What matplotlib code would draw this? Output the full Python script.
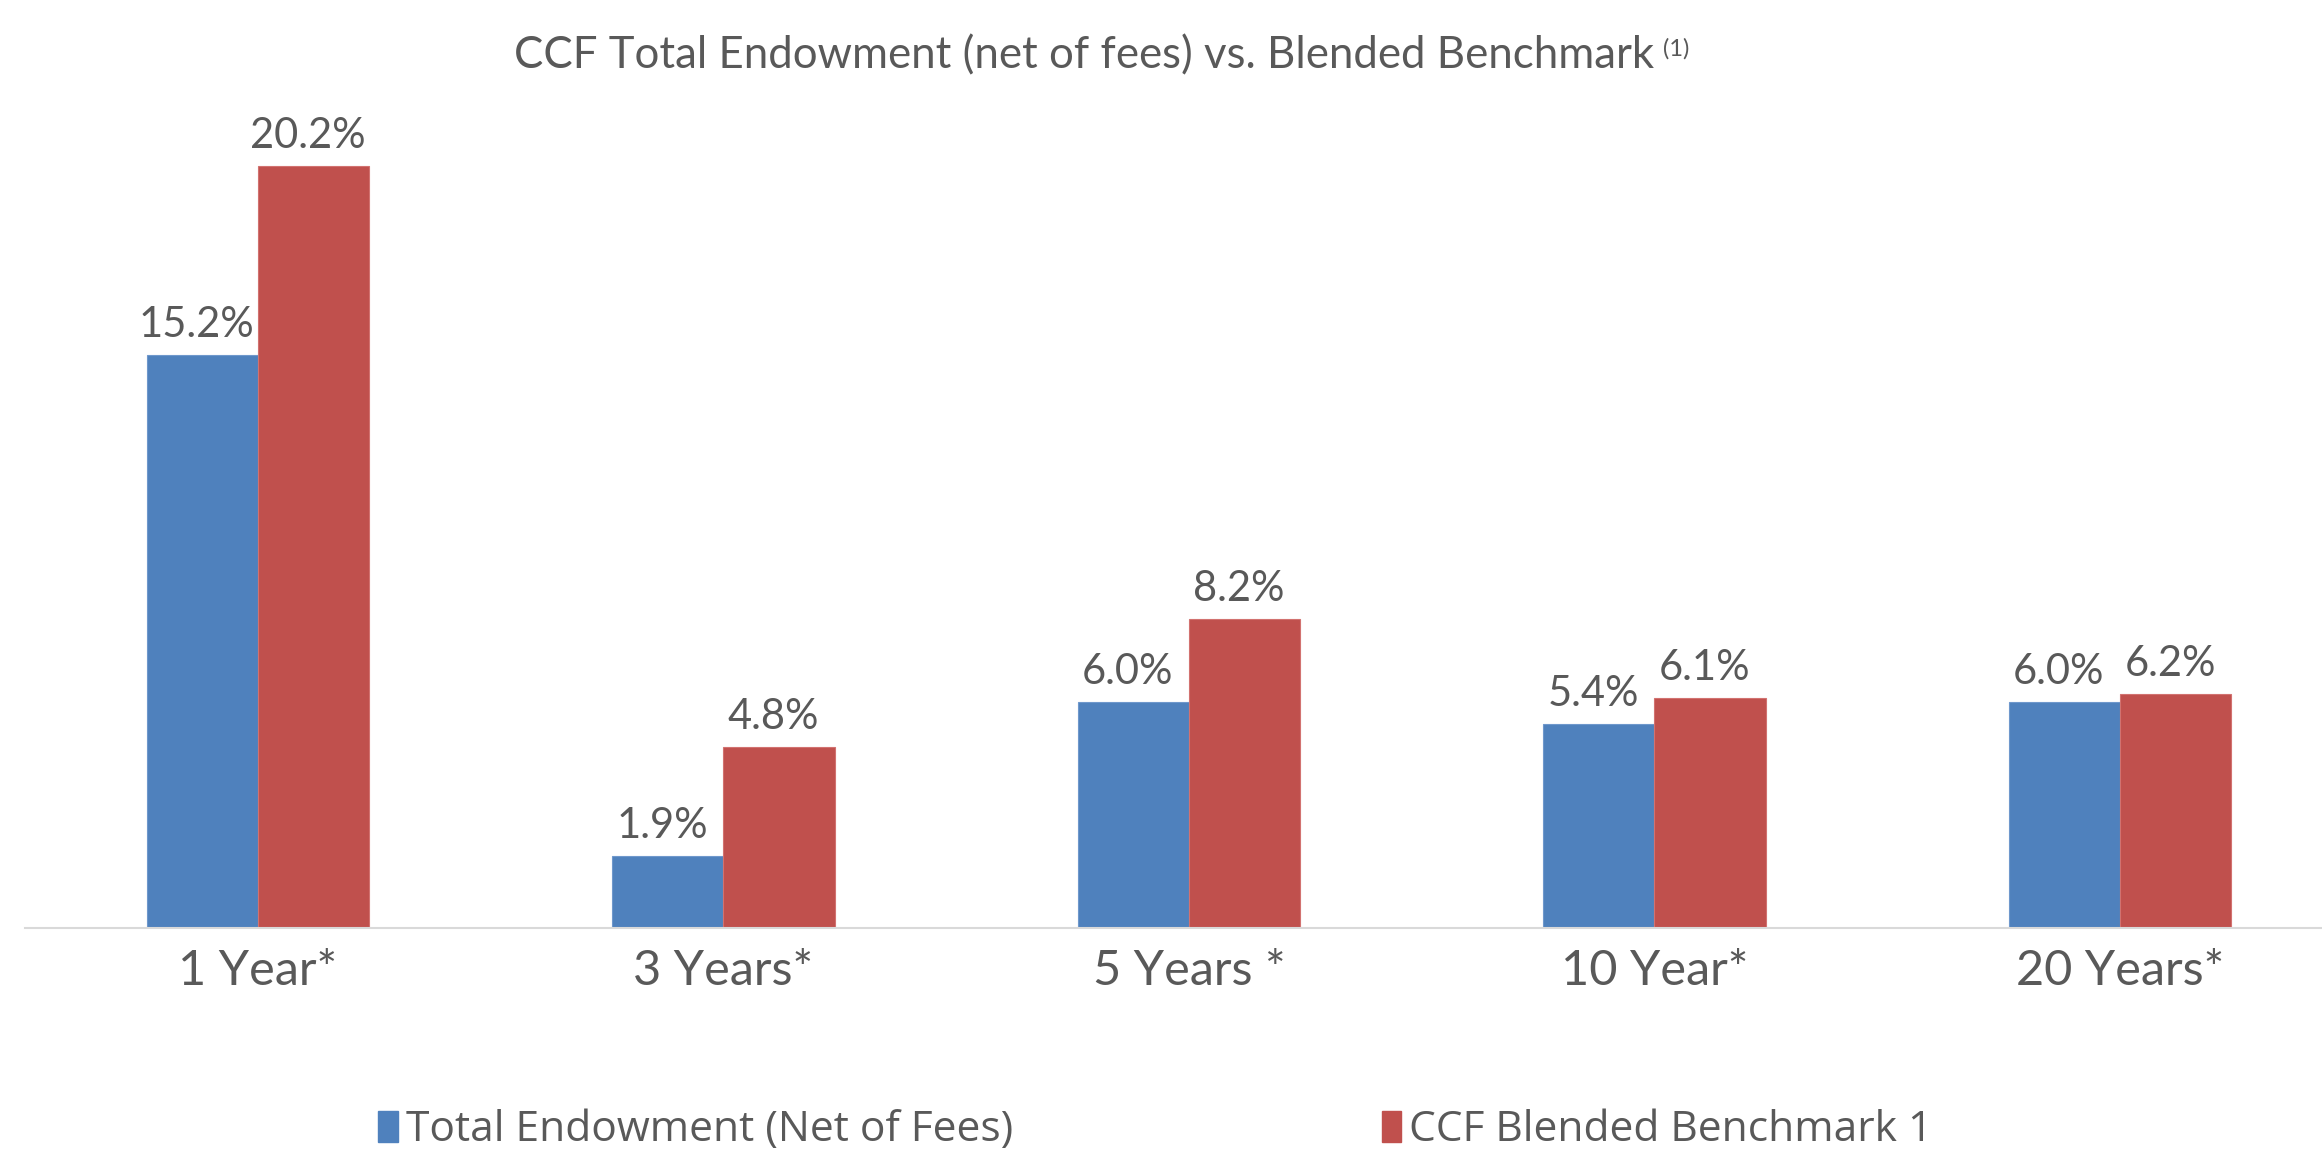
import matplotlib.pyplot as plt
import numpy as np

# ================= Data =================
CATEGORIES = ["1 Year*", "3 Years*", "5 Years *", "10 Year*", "20 Years*"]
ENDOWMENT = [15.2, 1.9, 6.0, 5.4, 6.0]
BENCHMARK = [20.2, 4.8, 8.2, 6.1, 6.2]
SERIES_NAMES = ["Total Endowment (Net of Fees)", "CCF Blended Benchmark 1"]
TITLE = "CCF Total Endowment (net of fees) vs. Blended Benchmark"
# ========================================

BLUE = "#4F81BD"
RED = "#C0504D"
TEXT = "#595959"

plt.rcParams['font.family'] = ['Lato', 'DejaVu Sans']

fig = plt.figure(figsize=(23.22, 11.5), dpi=100)
ax = fig.add_axes([0.0108, 0.193, 0.9892, 0.7213])

x = np.arange(len(CATEGORIES))
w = 0.239
b1 = ax.bar(x - w / 2, ENDOWMENT, w, color=BLUE, edgecolor="#6f98cc", linewidth=0.8)
b2 = ax.bar(x + w / 2, BENCHMARK, w, color=RED, edgecolor="#d27270", linewidth=0.8)

for bars, vals in ((b1, ENDOWMENT), (b2, BENCHMARK)):
    for bar, v in zip(bars, vals):
        ax.text(bar.get_x() + bar.get_width() / 2 - 0.012, v + 0.3, f"{v:.1f}%",
                ha='center', va='bottom', fontsize=30, color=TEXT)

ax.set_xlim(-0.5, 4.434)
ax.set_ylim(0, 22)
ax.set_xticks(x)
ax.set_xticklabels(CATEGORIES, fontsize=35, color=TEXT)
ax.tick_params(axis='x', length=0, pad=15)
ax.set_yticks([])
for s in ['top', 'right', 'left']:
    ax.spines[s].set_visible(False)
ax.spines['bottom'].set_color("#D9D9D9")
ax.spines['bottom'].set_linewidth(1.5)

# title with superscript note marker
t = fig.text(0.467, 0.951, TITLE, ha='center', va='center', fontsize=31.5, color=TEXT)
ax.annotate("(1)", xy=(1, 1), xycoords=t, xytext=(6, -2), textcoords='offset points',
            ha='left', va='top', fontsize=17, color=TEXT, annotation_clip=False)

# legend entries
for handle_color, name, xpos in ((BLUE, SERIES_NAMES[0], 0.163), (RED, SERIES_NAMES[1], 0.595)):
    h = plt.Rectangle((0, 0), 1, 1, color=handle_color)
    fig.legend([h], [name], loc='center left', bbox_to_anchor=(xpos, 0.017),
               frameon=False, handlelength=0.45, handleheight=0.75,
               handletextpad=0.2, borderpad=0, borderaxespad=0,
               prop={'family': ['Open Sans', 'DejaVu Sans'], 'size': 30.6},
               labelcolor=TEXT)

fig.savefig("out.png", dpi=100)
